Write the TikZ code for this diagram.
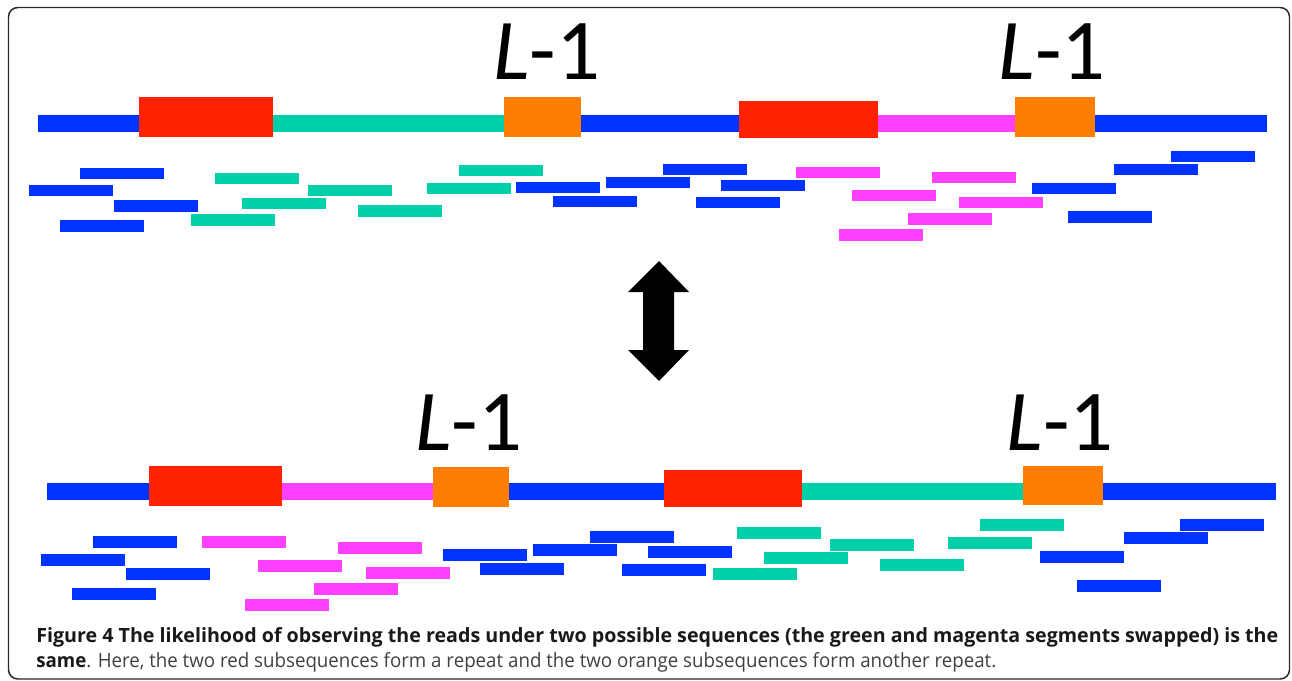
\documentclass[tikz,border=0pt]{standalone}
\usepackage{fontspec}
\setmainfont{Carlito}
\newfontfamily\capfont{Open Sans}
\usepackage{graphicx}
\definecolor{cblue}{RGB}{0,51,255}
\definecolor{cred}{RGB}{255,34,0}
\definecolor{cgreen}{RGB}{0,208,170}
\definecolor{cmag}{RGB}{255,64,255}
\definecolor{corange}{RGB}{255,125,0}
\definecolor{cframe}{RGB}{40,40,40}
\definecolor{ctext}{RGB}{64,64,64}
\definecolor{cbold}{RGB}{25,25,25}
\newcommand\readbar[3]{\fill[#1] (#2,#3) rectangle ++(83.5,11.5);}
\tikzset{
  lbl/.style={anchor=base, inner sep=0pt, font=\fontsize{65}{65}\selectfont},
  capline/.style={anchor=base west, inner sep=0pt, font=\capfont\fontsize{14.7}{18}\selectfont, text=ctext}
}
\begin{document}
\begin{tikzpicture}[x=0.75pt,y=-0.75pt]
\useasboundingbox (0,0) rectangle (1292,681);
\draw[cframe, line width=1.1pt, rounded corners=7pt] (8.5,7.5) rectangle (1289.5,679);

% top sequence
\fill[cblue] (38,115) rectangle (1267,132);
\fill[cgreen] (273,115) rectangle (504,132);
\fill[cmag] (878,115) rectangle (1015,132);
\fill[cred] (139,97) rectangle (273,137);
\fill[corange] (504,97) rectangle (581,137);
\fill[cred] (739,101) rectangle (878,138);
\fill[corange] (1015,97) rectangle (1095,137);
\node[lbl] (lA) at (547,80) {\textit{L}-1};
\node[lbl] (lB) at (1052,80) {\textit{L}-1};

% top reads
\readbar{cblue}{80}{168}
\readbar{cblue}{29}{185}
\readbar{cblue}{114}{200}
\readbar{cblue}{60}{220}
\readbar{cgreen}{215}{173}
\readbar{cgreen}{308}{185}
\readbar{cgreen}{242}{198}
\readbar{cgreen}{191}{214}
\readbar{cgreen}{358}{205}
\readbar{cgreen}{459}{165}
\readbar{cgreen}{427}{183}
\readbar{cblue}{516}{182}
\readbar{cblue}{553}{196}
\readbar{cblue}{606}{177}
\readbar{cblue}{663}{164}
\readbar{cblue}{721}{180}
\readbar{cblue}{696}{197}
\readbar{cmag}{796}{167}
\readbar{cmag}{932}{172}
\readbar{cmag}{852}{190}
\readbar{cmag}{959}{197}
\readbar{cmag}{908}{213}
\readbar{cmag}{839}{229}
\readbar{cblue}{1032}{183}
\readbar{cblue}{1114}{164}
\readbar{cblue}{1171}{151}
\readbar{cblue}{1068}{211}

% double arrow
\fill[black] (659,261) -- (689,292) -- (674,292) -- (674,350) -- (689,350) -- (659,381)
  -- (628,350) -- (643,350) -- (643,292) -- (628,292) -- cycle;

% bottom sequence
\fill[cblue] (47,483) rectangle (1276,500);
\fill[cmag] (282,483) rectangle (433,500);
\fill[cgreen] (802,483) rectangle (1023,500);
\fill[cred] (149,466) rectangle (282,506);
\fill[corange] (433,467) rectangle (509,507);
\fill[cred] (664,470) rectangle (802,507);
\fill[corange] (1023,466) rectangle (1103,505);
\node[lbl] (lC) at (469,450) {\textit{L}-1};
\node[lbl] (lD) at (1060,450) {\textit{L}-1};

% bottom reads
\readbar{cblue}{93}{536}
\readbar{cblue}{41}{554}
\readbar{cblue}{126}{568}
\readbar{cblue}{72}{588}
\readbar{cmag}{202}{536}
\readbar{cmag}{258}{560}
\readbar{cmag}{338}{542}
\readbar{cmag}{366}{567}
\readbar{cmag}{314}{583}
\readbar{cmag}{245}{599}
\readbar{cblue}{443}{549}
\readbar{cblue}{480}{563}
\readbar{cblue}{533}{544}
\readbar{cblue}{590}{531}
\readbar{cblue}{648}{546}
\readbar{cblue}{622}{564}
\readbar{cgreen}{737}{527}
\readbar{cgreen}{830}{539}
\readbar{cgreen}{764}{552}
\readbar{cgreen}{713}{568}
\readbar{cgreen}{880}{559}
\readbar{cgreen}{980}{519}
\readbar{cgreen}{948}{537}
\readbar{cblue}{1040}{551}
\readbar{cblue}{1124}{532}
\readbar{cblue}{1180}{519}
\readbar{cblue}{1077}{580}

% caption
\node[capline] (c1) at (36,642) {\resizebox{931.5pt}{\height}{\textcolor{cbold}{\textbf{Figure 4 The likelihood of observing the reads under two possible sequences (the green and magenta segments swapped) is the}}}};
\node[capline] (c2) at (36,667) {\resizebox{720pt}{\height}{\textcolor{cbold}{\textbf{same}}. Here, the two red subsequences form a repeat and the two orange subsequences form another repeat.}};
\end{tikzpicture}
\end{document}
